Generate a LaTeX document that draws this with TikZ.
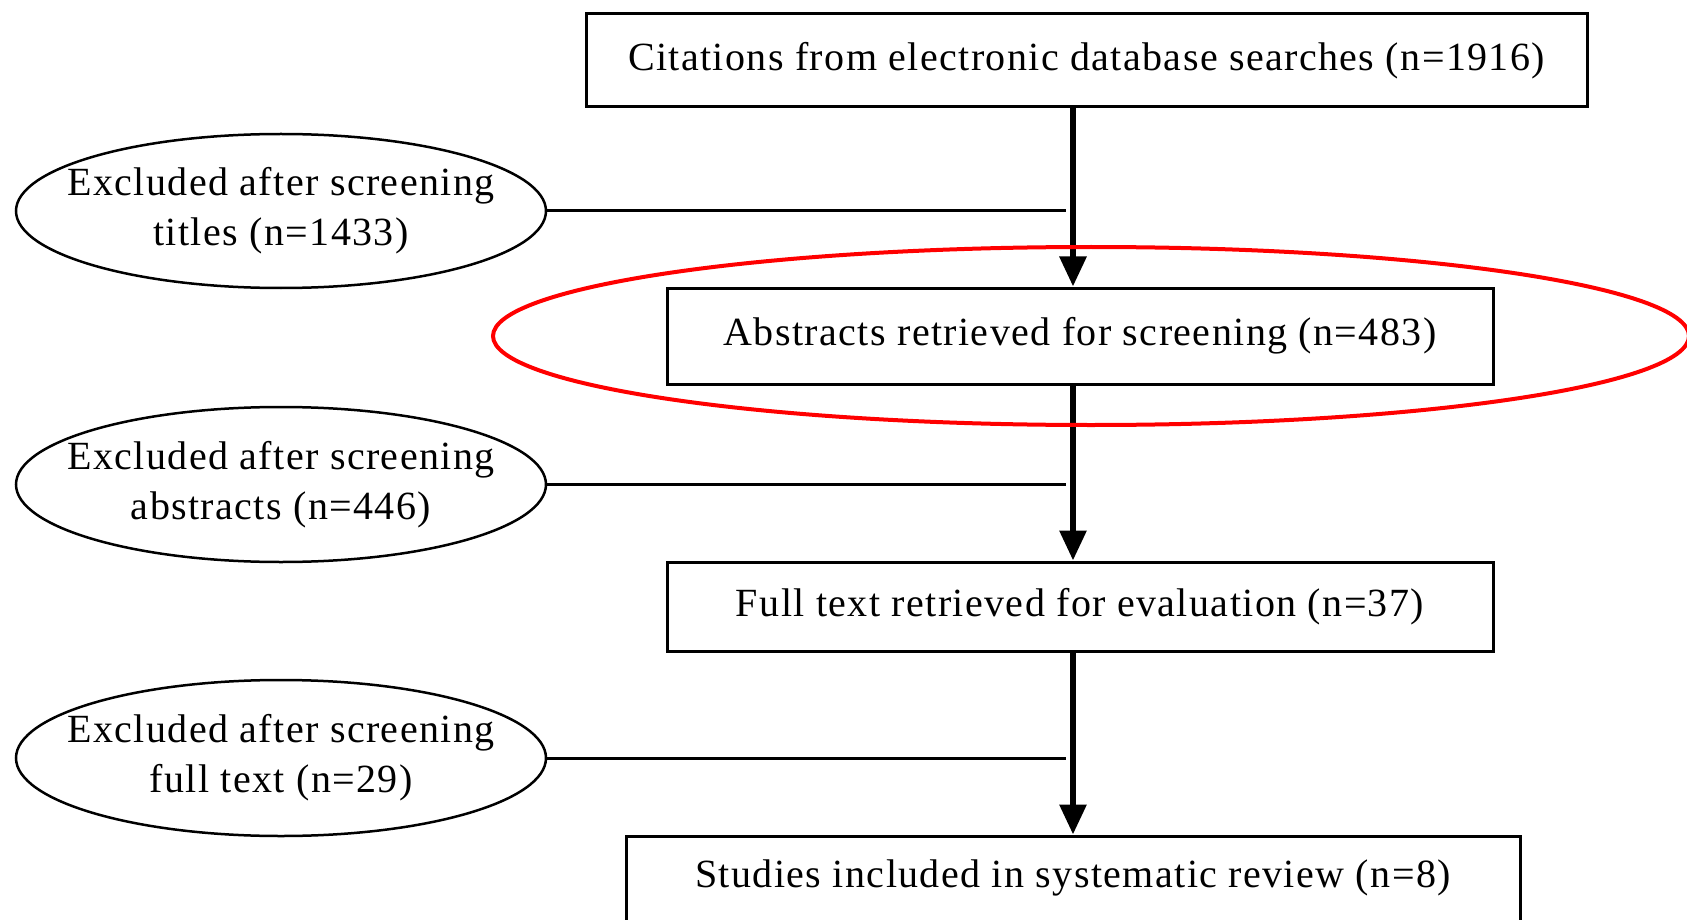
\documentclass[tikz,border=0pt]{standalone}
\usepackage{fontspec}
\setmainfont{Liberation Serif}[LetterSpace=3.5]
\usetikzlibrary{arrows.meta,shapes.geometric}
\begin{document}
\begin{tikzpicture}[x=1pt,y=-1pt,
  every node/.style={font=\fontsize{40}{44}\selectfont},
  stage/.style={draw,line width=3pt,inner sep=0pt},
  excl/.style={draw,ellipse,line width=2.5pt,inner sep=-80pt,align=center,font=\fontsize{40}{50}\selectfont},
  flow/.style={line width=6pt,-{Triangle[width=26pt,length=30pt]}},
  side/.style={line width=3pt}]
\clip (0,0) rectangle (1687,920);
\fill[white] (0,0) rectangle (1687,920);

% stage boxes
\node[stage,minimum width=1001pt,minimum height=93pt] (cit) at (1086.5,60.5) {Citations from electronic database searches (n=1916)};
\node[stage,minimum width=826pt,minimum height=96pt] (abs) at (1080,336) {Abstracts retrieved for screening (n=483)};
\node[stage,minimum width=826pt,minimum height=89pt] (full) at (1080,606.5) {Full text retrieved for evaluation (n=37)};
\node[stage,minimum width=894pt,minimum height=120pt] (inc) at (1073,896) {};
\node at (1073,878) {Studies included in systematic review (n=8)};

% exclusion ellipses
\node[excl,minimum width=530pt,minimum height=154pt] (ex1) at (281,211) {Excluded after screening\\titles (n=1433)};
\node[excl,minimum width=530pt,minimum height=155pt] (ex2) at (281,484.5) {Excluded after screening\\abstracts (n=446)};
\node[excl,minimum width=530pt,minimum height=156pt] (ex3) at (281,758) {Excluded after screening\\full text (n=29)};

% main flow
\coordinate (ax) at (1073,0);
\coordinate (jx) at (1066,0);
\draw[flow] (cit.south -| ax) -- (abs.north -| ax);
\draw[flow] (abs.south -| ax) -- (full.north -| ax);
\draw[flow] (full.south -| ax) -- (inc.north -| ax);

% links from exclusions to the flow
\draw[side] (ex1.east) -- (ex1.east -| jx);
\draw[side] (ex2.east) -- (ex2.east -| jx);
\draw[side] (ex3.east) -- (ex3.east -| jx);

% highlight
\draw[red,line width=4pt] (1091,336) ellipse [x radius=598,y radius=89];
\end{tikzpicture}
\end{document}
